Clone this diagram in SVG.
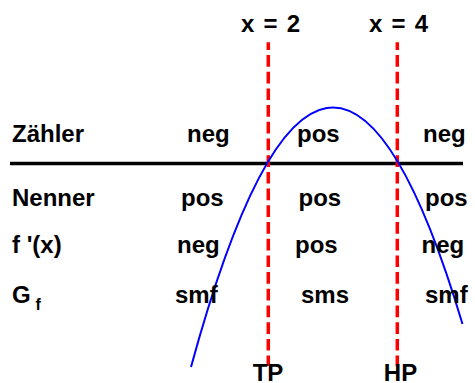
<svg xmlns="http://www.w3.org/2000/svg" width="475" height="383" viewBox="0 0 475 383">
<style>
text{font-family:"Liberation Sans",Arial,sans-serif;font-weight:bold;font-size:24px;fill:#000}
.sub{font-size:16px}
.mid{text-anchor:middle}
.vl{stroke:#ff0000;stroke-width:3.5;stroke-dasharray:11.7 5;stroke-dashoffset:4;fill:none}
</style>
<rect width="475" height="383" fill="#fff"/>
<g id="connectors">
<line id="axis" x1="10" y1="163.5" x2="463" y2="163.5" stroke="#000" stroke-width="3.5"/>
<line id="x2line" class="vl" x1="268.3" y1="42.3" x2="268.3" y2="366"/>
<line id="x4line" class="vl" x1="397.3" y1="42.3" x2="397.3" y2="366"/>
<path id="parabola" d="M191,367 Q326.75,-129.5 462.5,324" fill="none" stroke="#0000ff" stroke-width="2"/>
</g>
<g id="labels-top">
<text class="mid" x="270.5" y="32" word-spacing="2.5">x = 2</text>
<text class="mid" x="398.5" y="32" word-spacing="2.5">x = 4</text>
</g>
<g id="row-zaehler">
<text x="12" y="142">Zähler</text>
<text x="187" y="142">neg</text>
<text x="297" y="142">pos</text>
<text x="423" y="142">neg</text>
</g>
<g id="row-nenner">
<text x="12" y="205.5">Nenner</text>
<text x="181" y="205.5">pos</text>
<text x="298.5" y="205.5">pos</text>
<text x="425" y="205.5">pos</text>
</g>
<g id="row-fprime">
<text x="12" y="252.5">f '(x)</text>
<text x="177" y="252.5">neg</text>
<text x="295" y="252.5">pos</text>
<text x="421.5" y="252.5">neg</text>
</g>
<g id="row-gf">
<text x="12" y="302.5">G<tspan class="sub" x="35.5" y="310">f</tspan></text>
<text x="175" y="302.5">smf</text>
<text x="301" y="302.5">sms</text>
<text x="425" y="302.5">smf</text>
</g>
<g id="labels-bottom">
<text class="mid" x="268" y="380.5">TP</text>
<text class="mid" x="400.5" y="380.5">HP</text>
</g>
</svg>
